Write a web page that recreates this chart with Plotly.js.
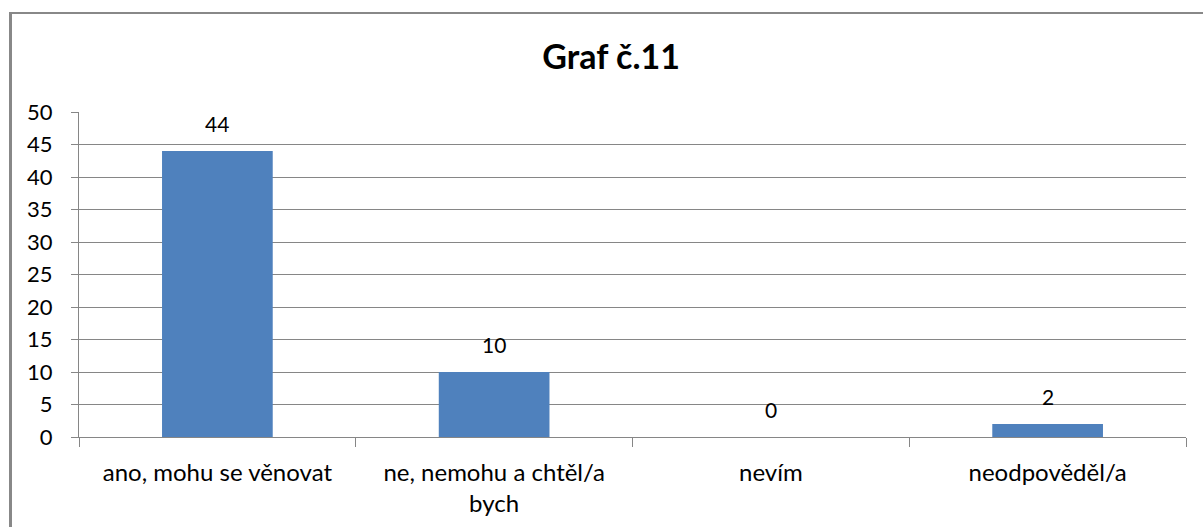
<!DOCTYPE html>
<html>
<head>
<meta charset="utf-8">
<script src="https://cdn.plot.ly/plotly-3.0.1.min.js"></script>
<style>
  html, body { margin: 0; padding: 0; background: #fff; }
  #wrap { position: relative; width: 1203px; height: 527px; overflow: hidden; }
  #chart { width: 1203px; height: 527px; }
  #frame { position: absolute; left: 9px; top: 12px; width: 1300px; height: 700px;
           border-left: 3px solid #888888; border-top: 2px solid #888888; pointer-events: none; }
</style>
</head>
<body>
<div id="wrap">
  <div id="chart"></div>
  <div id="frame"></div>
</div>
<script>
const titleText = "Graf č.11";
const categories = ["ano, mohu se věnovat", "ne, nemohu a chtěl/a bych", "nevím", "neodpověděl/a"];
const tickLabels = ["ano, mohu se věnovat", "ne, nemohu a chtěl/a<br>bych", "nevím", "neodpověděl/a"];
const values = [44, 10, 0, 2];
const yTicks = [0, 5, 10, 15, 20, 25, 30, 35, 40, 45, 50];

const font = "Lato, 'Open Sans', sans-serif";

const trace = {
  type: "bar",
  x: categories,
  y: values,
  marker: { color: "#4F81BD", line: { width: 0 } },
  hoverinfo: "x+y"
};

const annotations = categories.map((c, i) => ({
  x: c, y: values[i], xref: "x", yref: "y",
  text: String(values[i]), showarrow: false,
  yanchor: "bottom", yshift: 13,
  font: { family: font, size: 21, color: "#000" }
}));

const layout = {
  width: 1203, height: 527,
  margin: { l: 79, r: 17, t: 112, b: 90 },
  paper_bgcolor: "#fff", plot_bgcolor: "#fff",
  showlegend: false,
  bargap: 0.6,
  title: { text: "<b>" + titleText + "</b>", x: 0.508, xanchor: "center", y: 0.892, yanchor: "middle",
           font: { family: font, size: 34, color: "#000" } },
  xaxis: {
    type: "category",
    tickvals: categories, ticktext: tickLabels,
    tickson: "boundaries",
    ticks: "outside", ticklen: 9, tickcolor: "#868686", tickwidth: 1,
    showline: true, linecolor: "#868686", linewidth: 1,
    showgrid: false, zeroline: false,
    ticklabelstandoff: 14,
    tickfont: { family: font, size: 24, color: "#000" },
    fixedrange: true
  },
  yaxis: {
    range: [0, 50],
    tickvals: yTicks,
    ticks: "outside", ticklen: 7, tickcolor: "#868686", tickwidth: 1,
    showline: true, linecolor: "#868686", linewidth: 1,
    showgrid: true, gridcolor: "#868686", gridwidth: 1,
    zeroline: false,
    ticklabelstandoff: 14,
    tickfont: { family: font, size: 22, color: "#000" },
    fixedrange: true
  },
  annotations: annotations
};

Plotly.newPlot("chart", [trace], layout, { displayModeBar: false, staticPlot: true });
</script>
</body>
</html>
